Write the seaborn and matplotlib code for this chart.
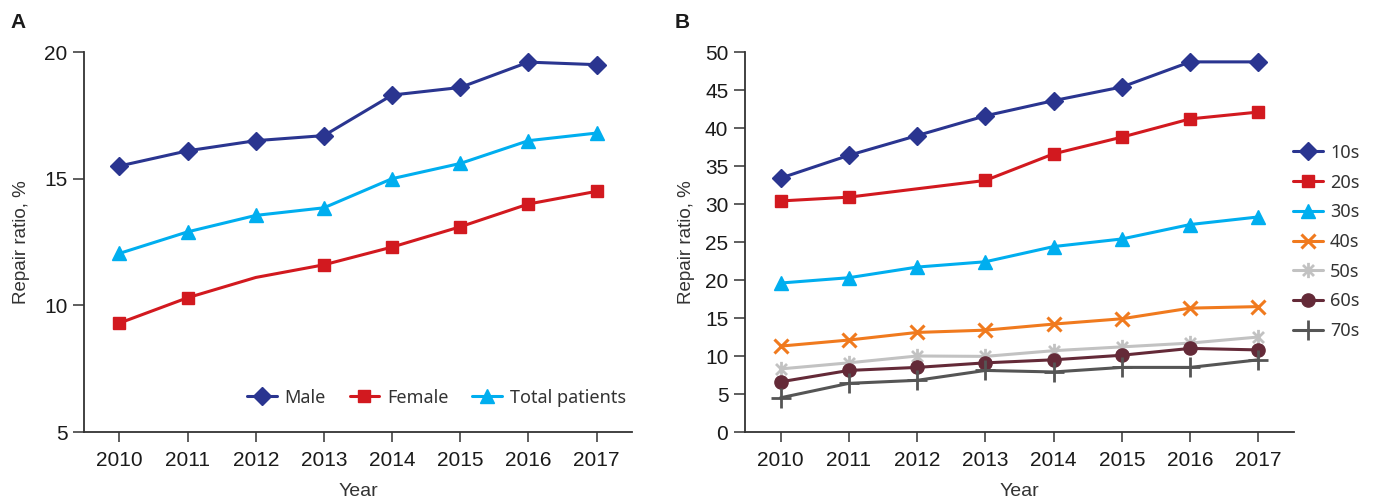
import matplotlib
matplotlib.use("Agg")
import matplotlib.pyplot as plt
from matplotlib.path import Path
import seaborn as sns
import pandas as pd

years = [2010, 2011, 2012, 2013, 2014, 2015, 2016, 2017]

# Panel A
male = [15.5, 16.1, 16.5, 16.7, 18.3, 18.6, 19.6, 19.5]
female = [9.3, 10.3, 11.1, 11.6, 12.3, 13.1, 14.0, 14.5]
total = [12.05, 12.9, 13.55, 13.85, 15.0, 15.6, 16.5, 16.8]
sex_labels = ["Male", "Female", "Total patients"]

# Panel B
age_10s = [33.4, 36.4, 39.0, 41.6, 43.6, 45.4, 48.7, 48.7]
age_20s = [30.4, 30.9, 32.0, 33.1, 36.6, 38.8, 41.2, 42.1]
age_30s = [19.6, 20.3, 21.7, 22.4, 24.4, 25.4, 27.3, 28.3]
age_40s = [11.3, 12.1, 13.1, 13.4, 14.2, 14.9, 16.3, 16.5]
age_50s = [8.3, 9.1, 10.0, 9.95, 10.7, 11.2, 11.7, 12.5]
age_60s = [6.6, 8.1, 8.5, 9.1, 9.5, 10.1, 11.0, 10.8]
age_70s = [4.5, 6.4, 6.8, 8.1, 7.9, 8.5, 8.5, 9.5]
age_labels = ["10s", "20s", "30s", "40s", "50s", "60s", "70s"]

sns.set_theme(style="ticks")
plt.rcParams["font.family"] = ["Noto Sans", "DejaVu Sans"]

NAVY = "#2a3590"
RED = "#d2191f"
CYAN = "#00aeef"
ORANGE = "#f07a1e"
LGRAY = "#c2c2c2"
MAROON = "#642a38"
DGRAY = "#555555"

helv = ["Liberation Sans", "DejaVu Sans"]

# asterisk marker: vertical bar plus an x
star = Path([(0, -1), (0, 1), (-0.72, -0.72), (0.72, 0.72), (-0.72, 0.72), (0.72, -0.72)],
            [Path.MOVETO, Path.LINETO, Path.MOVETO, Path.LINETO, Path.MOVETO, Path.LINETO])

fig = plt.figure(figsize=(13.73, 5.01), dpi=100)
axA = fig.add_axes([84 / 1373, 1 - 432 / 501, (632 - 84) / 1373, 380 / 501])
axB = fig.add_axes([745 / 1373, 1 - 432 / 501, (1294 - 745) / 1373, 380 / 501])

all_idx = list(range(len(years)))
no2012 = [0, 1, 3, 4, 5, 6, 7]

styleA = [
    (male, NAVY, "D", 9, 1.0, all_idx),
    (female, RED, "s", 8.5, 1.0, no2012),
    (total, CYAN, "^", 9.5, 1.0, all_idx),
]
for (vals, col, mk, ms, mew, me), lab in zip(styleA, sex_labels):
    df = pd.DataFrame({"Year": years, "v": vals})
    sns.lineplot(data=df, x="Year", y="v", ax=axA, color=col, marker=mk,
                 markersize=ms, markeredgewidth=mew, markeredgecolor=col,
                 markevery=me, linewidth=2.2, label=lab)

styleB = [
    (age_10s, NAVY, "D", 9, 1.0, all_idx),
    (age_20s, RED, "s", 8.5, 1.0, no2012),
    (age_30s, CYAN, "^", 9.5, 1.0, all_idx),
    (age_40s, ORANGE, "x", 10, 2.2, all_idx),
    (age_50s, LGRAY, star, 11, 2.0, all_idx),
    (age_60s, MAROON, "o", 9.5, 1.0, all_idx),
    (age_70s, DGRAY, "+", 14, 2.0, all_idx),
]
for (vals, col, mk, ms, mew, me), lab in zip(styleB, age_labels):
    df = pd.DataFrame({"Year": years, "v": vals})
    sns.lineplot(data=df, x="Year", y="v", ax=axB, color=col, marker=mk,
                 markersize=ms, markeredgewidth=mew, markeredgecolor=col,
                 markevery=me, linewidth=2.2, label=lab)

for ax, ylim, yt, ylp in [(axA, (5, 20), [5, 10, 15, 20], 10),
                          (axB, (0, 50), list(range(0, 51, 5)), 7)]:
    ax.set_xlim(2009.48, 2017.52)
    ax.set_ylim(*ylim)
    ax.set_xticks(years)
    ax.set_yticks(yt)
    ax.set_xticklabels([str(y) for y in years], fontfamily=helv, fontsize=15, color="#1a1a1a")
    ax.set_yticklabels([str(v) for v in yt], fontfamily=helv, fontsize=15, color="#1a1a1a")
    for s in ["top", "right"]:
        ax.spines[s].set_visible(False)
    for s in ["left", "bottom"]:
        ax.spines[s].set_color("#333333")
        ax.spines[s].set_linewidth(1.3)
    ax.tick_params(axis="y", direction="out", length=8, width=1.1, color="#333333", pad=4)
    ax.tick_params(axis="x", direction="out", length=7, width=1.1, color="#333333", pad=7)
    ax.set_ylabel("Repair ratio, %", fontsize=13.5, color="#333333", labelpad=ylp, family=helv)
    ax.set_xlabel("Year", fontsize=14, color="#333333", labelpad=9, family=helv)
    ax.grid(False)

axA.legend(loc="center right", bbox_to_anchor=(0.99, 0.09), ncol=3, frameon=False,
           fontsize=13, handlelength=1.65, columnspacing=1.3, handletextpad=0.45,
           borderaxespad=0, borderpad=0, labelcolor="#333333")
axB.legend(loc="center left", bbox_to_anchor=(0.998, 0.5), ncol=1, frameon=False,
           fontsize=13, handlelength=1.65, handletextpad=0.4, labelspacing=0.65,
           borderaxespad=0, borderpad=0, labelcolor="#333333")

fig.text(10 / 1373, 1 - 22 / 501, "A", fontsize=15, fontweight="bold", va="center", ha="left",
         color="#1a1a1a", family=helv)
fig.text(675 / 1373, 1 - 22 / 501, "B", fontsize=15, fontweight="bold", va="center", ha="left",
         color="#1a1a1a", family=helv)

fig.savefig("out.png", dpi=100)
